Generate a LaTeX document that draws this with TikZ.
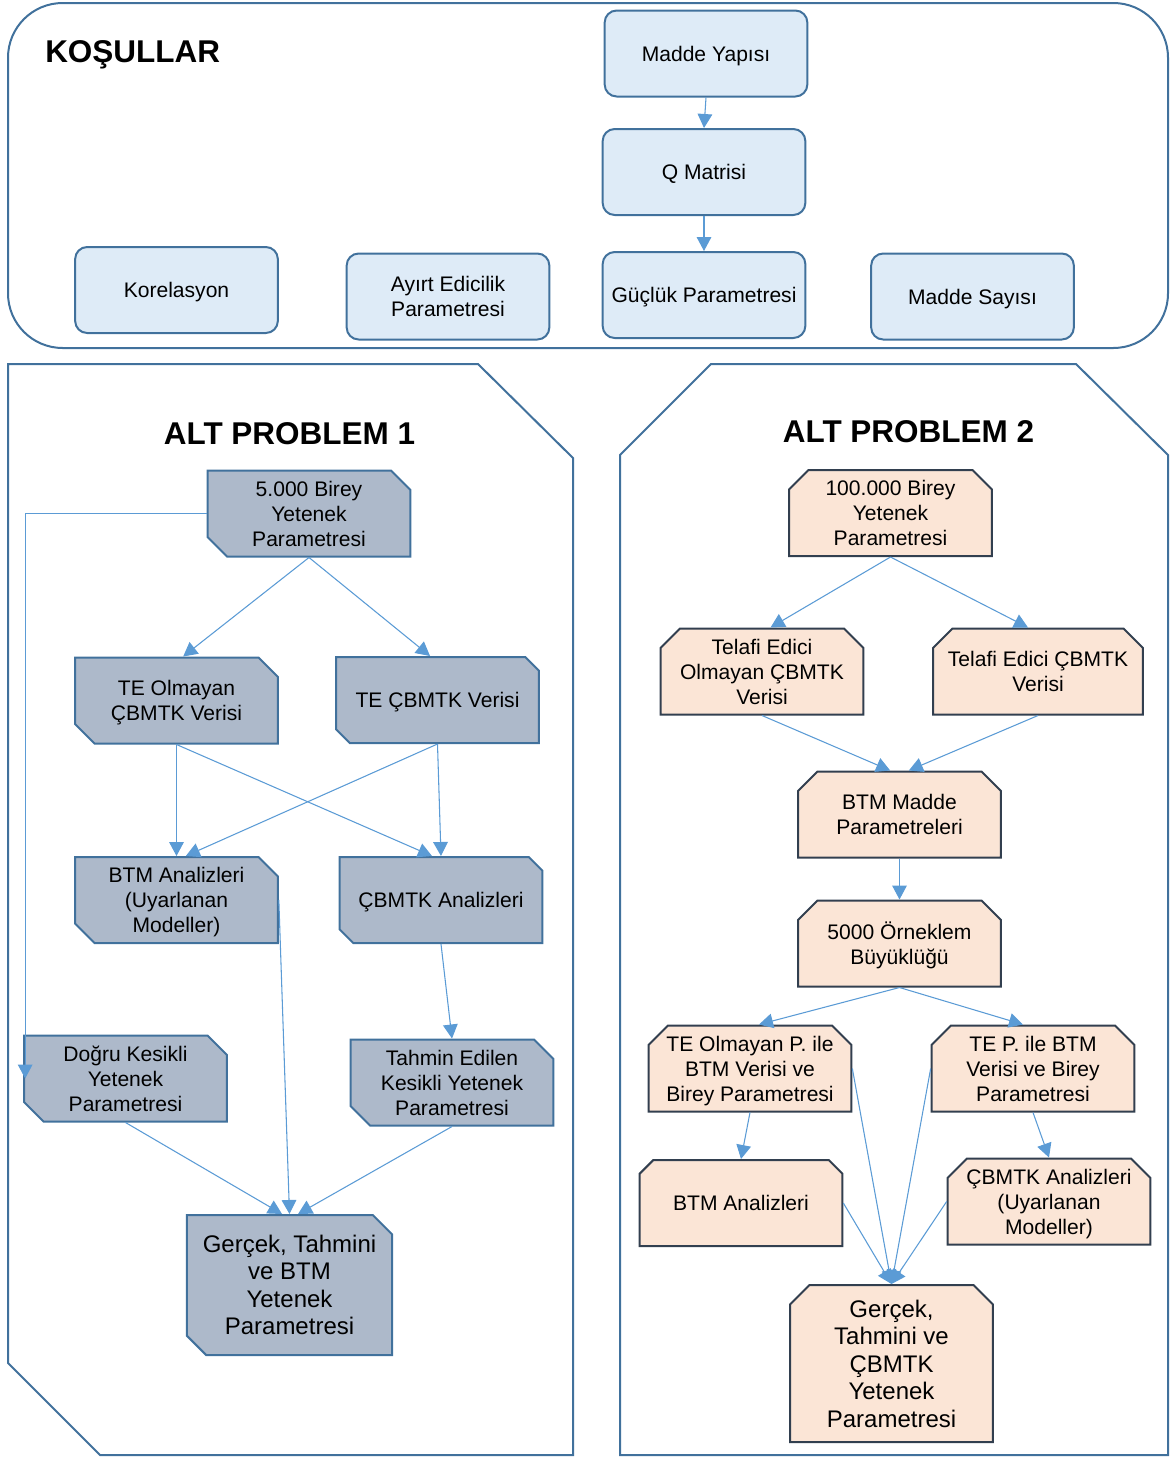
\documentclass[tikz,border=0pt]{standalone}
\usepackage{fontspec}
\setmainfont{Liberation Sans}
\usetikzlibrary{shapes.misc,arrows.meta}

\definecolor{condfill}{RGB}{222,235,247}
\definecolor{condline}{RGB}{65,113,156}
\definecolor{grayfill}{RGB}{173,185,202}
\definecolor{peachfill}{RGB}{251,229,214}
\definecolor{darkline}{RGB}{50,63,79}
\definecolor{arrowblue}{RGB}{91,155,213}

\newcommand{\boxfont}{\fontsize{15.8}{18.8}\selectfont}
\newcommand{\bigboxfont}{\fontsize{18}{20.6}\selectfont}
\newcommand{\titlefont}{\fontsize{23.6}{28}\selectfont\bfseries}

\tikzset{
  cond/.style={draw=condline, fill=condfill, line width=1.5pt, rounded corners=9pt,
    minimum width=152pt, minimum height=64.5pt, align=center, font=\boxfont, inner sep=1pt,
    text depth=0pt},
  grayshape/.style={chamfered rectangle, chamfered rectangle corners={north east,south west},
    chamfered rectangle xsep=11pt, draw=condline, fill=grayfill, line width=1.5pt,
    minimum width=152pt, minimum height=64.5pt, align=center, font=\boxfont, inner sep=1pt,
    text depth=0pt},
  peachshape/.style={chamfered rectangle, chamfered rectangle corners={north west,north east},
    chamfered rectangle xsep=11pt, draw=darkline, fill=peachfill, line width=1.5pt,
    minimum width=152pt, minimum height=64.5pt, align=center, font=\boxfont, inner sep=1pt,
    text depth=0pt},
  panel/.style={draw=condline, line width=1.5pt},
  link/.style={draw=arrowblue, line width=0.8pt, -{Triangle[width=11pt,length=10.5pt]}}
}

\begin{document}
\begin{tikzpicture}[x=0.75pt,y=0.75pt,yscale=-1,xscale=1]

\useasboundingbox (0,0) rectangle (1172,1457);

%Shape: Rounded Rect (conditions)
\draw[panel, rounded corners=41pt] (8,3) rectangle (1168,348);
\node[anchor=base west, inner sep=0, font=\titlefont] (kosul) at (45,62) {KOŞULLAR};

\node[cond] (yapi) at (706,53.5) {Madde Yapısı};
\node[cond] (qmat) at (704,172) {Q Matrisi};
\node[cond] (gucluk) at (704,295) {Güçlük Parametresi};
\node[cond] (korel) at (176.5,290) {Korelasyon};
\node[cond] (ayirt) at (448,296.5) {Ayırt Edicilik\\Parametresi};
\node[cond] (sayi) at (972.5,296.5) {Madde Sayısı};

\draw[link] (yapi.south) -- (qmat.north);
\draw[link] (qmat.south) -- (gucluk.north);

%Shape: Polygon (alt problem 1)
\draw[panel] (8,364) -- (478,364) -- (573,458) -- (573,1455) -- (100,1455) -- (8,1363) -- cycle;
\node[anchor=base, inner sep=0, font=\titlefont] (baslikA) at (289.5,444) {ALT PROBLEM 1};

\node[grayshape] (birA) at (309,513.5) {5.000 Birey\\Yetenek\\Parametresi};
\node[grayshape] (teol) at (176.5,700.5) {TE Olmayan\\ÇBMTK Verisi};
\node[grayshape] (tecb) at (437.5,700) {TE ÇBMTK Verisi};
\node[grayshape] (btmA) at (176.5,900) {BTM Analizleri\\(Uyarlanan\\Modeller)};
\node[grayshape] (cbmA) at (441,900) {ÇBMTK Analizleri};
\node[grayshape] (dogru) at (125.5,1078.5) {Doğru Kesikli\\Yetenek\\Parametresi};
\node[grayshape] (tahmin) at (452,1082.5) {Tahmin Edilen\\Kesikli Yetenek\\Parametresi};
\node[grayshape, minimum height=105pt, font=\bigboxfont] (sonA) at (289.5,1285) {Gerçek, Tahmini\\ve BTM\\Yetenek\\Parametresi};

%Straight Lines (alt problem 1)
\draw[link] (birA.south) -- ([xshift=5pt]teol.north);
\draw[link] (birA.south) -- ([xshift=-5.6pt]tecb.north);
\draw[link] (birA.west) -| ([xshift=1.5pt]dogru.west);
\draw[link] (teol.south) -- (btmA.north);
\draw[link] (teol.south) -- ([xshift=-6.75pt]cbmA.north);
\draw[link] (tecb.south) -- ([xshift=7pt]btmA.north);
\draw[link] (tecb.south) -- (cbmA.north);
\draw[link] (cbmA.south) -- (tahmin.north);
\draw[link] (btmA.east) -- (sonA.north);
\draw[link] (dogru.south) -- ([xshift=-5.6pt]sonA.north);
\draw[link] (tahmin.south) -- ([xshift=6.4pt]sonA.north);

%Shape: Polygon (alt problem 2)
\draw[panel] (620,455) -- (711,364) -- (1076,364) -- (1168,455) -- (1168,1455) -- (620,1455) -- cycle;
\node[anchor=base, inner sep=0, font=\titlefont] (baslikB) at (908.5,442) {ALT PROBLEM 2};

\node[peachshape] (birB) at (890.5,513) {100.000 Birey\\Yetenek\\Parametresi};
\node[peachshape] (tfol) at (762,671.5) {Telafi Edici\\Olmayan ÇBMTK\\Verisi};
\node[peachshape, inner xsep=0pt] (tfed) at (1038,671.5) {Telafi Edici ÇBMTK\\Verisi};
\node[peachshape] (btmmad) at (899.5,814.5) {BTM Madde\\Parametreleri};
\node[peachshape] (orneklem) at (899.5,943.5) {5000 Örneklem\\Büyüklüğü};
\node[peachshape] (teolp) at (750,1068.5) {TE Olmayan P. ile\\BTM Verisi ve\\Birey Parametresi};
\node[peachshape] (tep) at (1033,1068.5) {TE P. ile BTM\\Verisi ve Birey\\Parametresi};
\node[peachshape] (btmB) at (741,1203) {BTM Analizleri};
\node[peachshape] (cbmB) at (1049,1201.5) {ÇBMTK Analizleri\\(Uyarlanan\\Modeller)};
\node[peachshape, minimum height=117.75pt, font=\bigboxfont] (sonB) at (891.5,1363.5) {Gerçek,\\Tahmini ve\\ÇBMTK\\Yetenek\\Parametresi};

%Straight Lines (alt problem 2)
\draw[link] (birB.south) -- ([xshift=6.4pt]tfol.north);
\draw[link] (birB.south) -- ([xshift=-7.5pt]tfed.north);
\draw[link] (tfol.south) -- ([xshift=-7pt]btmmad.north);
\draw[link] (tfed.south) -- ([xshift=7pt]btmmad.north);
\draw[link] (btmmad.south) -- (orneklem.north);
\draw[link] (orneklem.south) -- ([xshift=6.75pt]teolp.north);
\draw[link] (orneklem.south) -- ([xshift=-7.5pt]tep.north);
\draw[link] (teolp.south) -- (btmB.north);
\draw[link] (tep.south) -- (cbmB.north);
\draw[link] (teolp.east) -- (sonB.north);
\draw[link] (tep.west) -- (sonB.north);
\draw[link] (btmB.east) -- (sonB.north);
\draw[link] (cbmB.west) -- (sonB.north);

\end{tikzpicture}
\end{document}
